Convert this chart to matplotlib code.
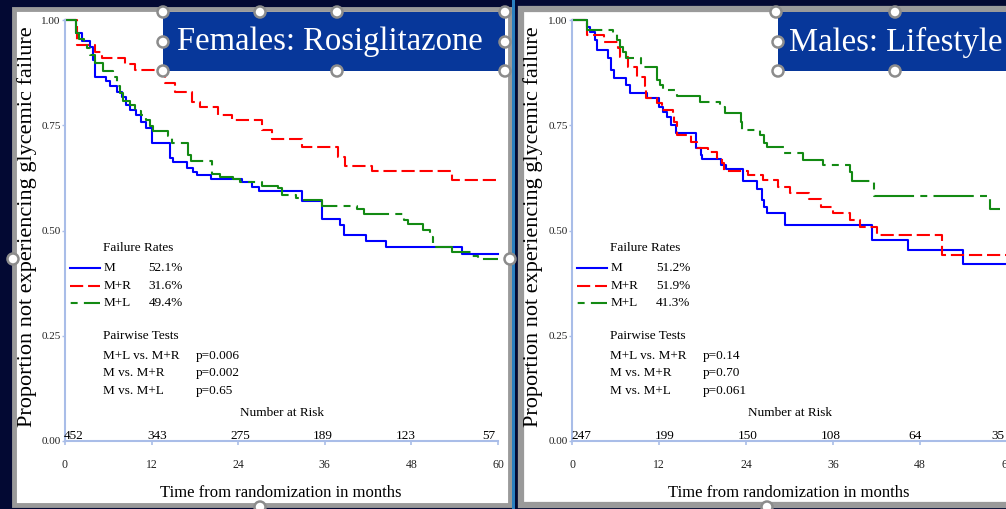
import matplotlib.pyplot as plt
import numpy as np
from matplotlib.patches import Rectangle, Ellipse

plt.rcParams['font.family'] = 'serif'
plt.rcParams['font.serif'] = ['Liberation Serif', 'DejaVu Serif']
plt.rcParams['lines.scale_dashes'] = False

# Kaplan-Meier curves, females on rosiglitazone arm comparison
f_m_t = [0, 1.5, 2.4, 3.5, 3.9, 4.2, 5.7, 6.2, 7.2, 7.9, 8.5, 9.0, 9.8, 10.5, 11.2, 12.1, 14.5, 15.0, 16.9, 17.7, 18.3,
         20.2, 24.5, 25.9, 26.9, 32.8, 35.6, 38.1, 38.7, 41.7, 44.5, 55.0, 60]
f_m_s = [1.0, 0.97, 0.95, 0.935, 0.905, 0.865, 0.855, 0.843, 0.829, 0.817, 0.798, 0.786, 0.774, 0.758, 0.743, 0.708,
         0.672, 0.663, 0.648, 0.639, 0.632, 0.622, 0.615, 0.603, 0.594, 0.570, 0.527, 0.513, 0.489, 0.475, 0.461,
         0.444, 0.444]
f_r_t = [0, 1.7, 4.2, 5.1, 8.3, 9.7, 13.9, 15.2, 17.6, 18.7, 21.2, 23.1, 27.3, 28.7, 32.8, 37.8, 38.8, 42.5, 53.6, 60]
f_r_s = [1.0, 0.941, 0.924, 0.910, 0.895, 0.881, 0.850, 0.829, 0.805, 0.793, 0.774, 0.762, 0.739, 0.717, 0.698,
         0.675, 0.653, 0.641, 0.620, 0.620]
f_l_t = [0, 1.5, 1.9, 2.6, 3.0, 3.5, 4.2, 5.3, 6.7, 7.2, 7.6, 8.0, 9.0, 9.7, 10.5, 11.2, 11.8, 12.2, 14.3, 14.8,
         17.0, 17.5, 20.4, 21.5, 23.3, 24.2, 27.3, 29.5, 30.1, 32.0, 33.1, 35.6, 40.5, 41.4, 47.0, 47.5, 49.6, 50.6,
         51.0, 53.6, 56.4, 57.2, 60]
f_l_s = [1.0, 0.97, 0.955, 0.945, 0.933, 0.917, 0.897, 0.88, 0.865, 0.843, 0.827, 0.808, 0.798, 0.784, 0.774, 0.762,
         0.748, 0.736, 0.724, 0.708, 0.680, 0.665, 0.634, 0.627, 0.622, 0.615, 0.606, 0.600, 0.584, 0.577, 0.572,
         0.558, 0.551, 0.539, 0.525, 0.515, 0.501, 0.485, 0.460, 0.449, 0.439, 0.432, 0.432]

# males, lifestyle arm comparison
m_m_t = [0, 2.1, 2.5, 3.2, 3.4, 5.0, 5.4, 5.8, 7.4, 8.0, 10.3, 12.0, 12.6, 13.1, 13.7, 14.3, 17.1, 17.8, 17.9, 20.6,
         21.2, 23.6, 25.5, 26.2, 26.5, 26.9, 29.4, 41.4, 46.3, 53.9, 60]
m_m_s = [1.0, 0.983, 0.971, 0.952, 0.929, 0.910, 0.881, 0.862, 0.846, 0.827, 0.815, 0.793, 0.781, 0.770, 0.751,
         0.732, 0.696, 0.679, 0.670, 0.656, 0.646, 0.618, 0.599, 0.572, 0.556, 0.542, 0.513, 0.477, 0.454, 0.420,
         0.420]
m_r_t = [0, 2.0, 4.4, 6.3, 6.6, 7.7, 9.0, 10.1, 10.2, 11.7, 12.4, 13.9, 14.1, 14.5, 16.4, 17.2, 18.8, 20.0, 20.7,
         21.0, 24.3, 26.3, 28.4, 30.1, 32.7, 34.3, 36.0, 38.3, 39.7, 42.1, 51.0, 60]
m_r_s = [1.0, 0.964, 0.948, 0.933, 0.912, 0.888, 0.865, 0.843, 0.815, 0.803, 0.786, 0.772, 0.758, 0.727, 0.710,
         0.696, 0.686, 0.672, 0.660, 0.641, 0.632, 0.620, 0.603, 0.589, 0.575, 0.556, 0.542, 0.525, 0.508, 0.489,
         0.442, 0.442]
m_l_t = [0, 2.1, 5.7, 6.2, 6.6, 7.0, 7.4, 9.5, 11.7, 12.1, 12.6, 14.5, 17.7, 20.4, 21.1, 23.3, 23.4, 25.9, 26.5,
         26.9, 29.2, 31.9, 34.6, 38.3, 38.6, 41.7, 57.7, 59.0]
m_l_s = [1.0, 0.976, 0.969, 0.952, 0.936, 0.924, 0.910, 0.888, 0.857, 0.846, 0.834, 0.819, 0.805, 0.793, 0.779,
         0.758, 0.739, 0.727, 0.708, 0.698, 0.684, 0.667, 0.656, 0.639, 0.618, 0.582, 0.551, 0.551]

groups = ['M', 'M+R', 'M+L']
f_rates = ['52.1%', '31.6%', '49.4%']
m_rates = ['51.2%', '51.9%', '41.3%']
tests = ['M+L vs. M+R', 'M vs. M+R', 'M vs. M+L']
f_pvals = ['p=0.006', 'p=0.002', 'p=0.65']
m_pvals = ['p=0.14', 'p=0.70', 'p=0.061']
risk_months = [0, 12, 24, 36, 48, 60]
f_risk = [452, 343, 275, 189, 123, 57]
m_risk = [247, 199, 150, 108, 64, 35]

colors = ['#0000ff', '#ff0000', '#138a13']
styles = ['-', (0, (9.5, 3.5)), (0, (29, 4.5, 5, 4.5))]
key_styles = ['-', (0, (9.5, 3.5)), (33, (29, 4.5, 5, 4.5))]

W, H = 1006, 509
fig = plt.figure(figsize=(W / 100, H / 100), dpi=100, facecolor='#030933')


def fx(x):
    return x / W


def fy(y):
    return 1 - y / H


def box(x0, y0, x1, y1, **kw):
    r = Rectangle((fx(x0), fy(y1)), (x1 - x0) / W, (y1 - y0) / H, transform=fig.transFigure, **kw)
    fig.add_artist(r)


def handle(x, y):
    e = Ellipse((fx(x), fy(y)), 11 / W, 11 / H, transform=fig.transFigure, facecolor='white',
                edgecolor='#8c8c8c', lw=1.8, zorder=6)
    fig.add_artist(e)


# white panels with grey frames
box(14, 9, 510, 505, facecolor='white', edgecolor='#9a9a9a', lw=3.5, zorder=-2)
box(521, 9, 1012, 505, facecolor='white', edgecolor='#9a9a9a', lw=4.5, zorder=-2)
box(512, 0, 515, 509, facecolor='#2a7fc0', edgecolor='none', zorder=-1)


def km_panel(x0, x1, curves, rates, pvals, risk, tbox, ylab_x):
    ax = fig.add_axes([fx(x0), fy(441), (x1 - x0) / W, 421 / H])
    ax.patch.set_alpha(0)
    for (t, s), c, ls in zip(curves, colors, styles):
        ax.step(t, s, where='post', color=c, lw=1.5, linestyle=ls, clip_on=False)
    ax.set_xlim(0, 60)
    ax.set_ylim(0, 1)
    ax.set_xticks(risk_months)
    ax.set_yticks([0, 0.25, 0.5, 0.75, 1.0])
    ax.set_yticklabels(['0.00', '0.25', '0.50', '0.75', '1.00'])
    for sp in ['top', 'right']:
        ax.spines[sp].set_visible(False)
    for sp in ['left', 'bottom']:
        ax.spines[sp].set_color('#a9bde8')
        ax.spines[sp].set_linewidth(1.5)
    ax.tick_params(axis='x', colors='#a9bde8', length=3, width=1.2, pad=10, labelsize=8.5, labelcolor='#222222')
    ax.tick_params(axis='y', colors='#a9bde8', length=2, width=1, pad=1, labelsize=8, labelcolor='#222222')

    # legend block
    ax.text(5.3, 0.458, 'Failure Rates', fontsize=9.5, va='center', ha='left')
    for i, (g, r) in enumerate(zip(groups, rates)):
        yy = [0.411, 0.368, 0.328][i]
        ax.plot([0.7, 4.8], [yy, yy], color=colors[i], lw=1.5, linestyle=key_styles[i])
        ax.text(5.3, yy, g, fontsize=9.5, va='center', ha='left')
        ax.text(11.6, yy, r, fontsize=9.5, va='center', ha='left')
    ax.text(5.3, 0.249, 'Pairwise Tests', fontsize=9.5, va='center', ha='left')
    for i, (tt, p) in enumerate(zip(tests, pvals)):
        yy = [0.202, 0.162, 0.119][i]
        ax.text(5.3, yy, tt, fontsize=9.5, va='center', ha='left')
        ax.text(18.1, yy, p, fontsize=9.5, va='center', ha='left')

    # number at risk row
    ax.text(30.1, 0.067, 'Number at Risk', fontsize=9.5, va='center', ha='center')
    pos = np.linspace(1.25, 58.75, len(risk))
    for p, n in zip(pos, risk):
        ax.text(p, 0.004, str(n), fontsize=9.5, va='baseline', ha='center', clip_on=False)

    fig.text(fx((x0 + x1) / 2 - 1), fy(493), 'Time from randomization in months', fontsize=12,
             ha='center', va='center')
    fig.text(fx(ylab_x), fy(227), 'Proportion not experiencing glycemic failure', fontsize=16,
             rotation=90, ha='center', va='center')

    bx0, bx1 = tbox
    box(bx0, 12, bx1, 71, facecolor='#07379a', edgecolor='none', zorder=5)
    return ax


km_panel(65, 498, [(f_m_t, f_m_s), (f_r_t, f_r_s), (f_l_t, f_l_s)], f_rates, f_pvals, f_risk, (163, 505), 27)
km_panel(572, 1007, [(m_m_t, m_m_s), (m_r_t, m_r_s), (m_l_t, m_l_s)], m_rates, m_pvals, m_risk, (778, 1012), 533)

fig.text(fx(330), fy(42), 'Females: Rosiglitazone', fontsize=23.5, color='white', ha='center', va='center',
         zorder=7)
fig.text(fx(789), fy(42), 'Males: Lifestyle', fontsize=23.5, color='white', ha='left', va='center', zorder=7)

# selection handles around the title boxes and panels
for hx, hy in [(163, 12), (260, 12), (337, 12), (505, 12), (163, 42), (505, 42), (163, 71), (337, 71),
               (505, 71), (510, 259), (13, 259), (260, 507), (776, 12), (895, 12), (778, 42), (778, 71),
               (895, 71), (767, 507)]:
    handle(hx, hy)

fig.savefig('out.png', dpi=100, facecolor=fig.get_facecolor())
